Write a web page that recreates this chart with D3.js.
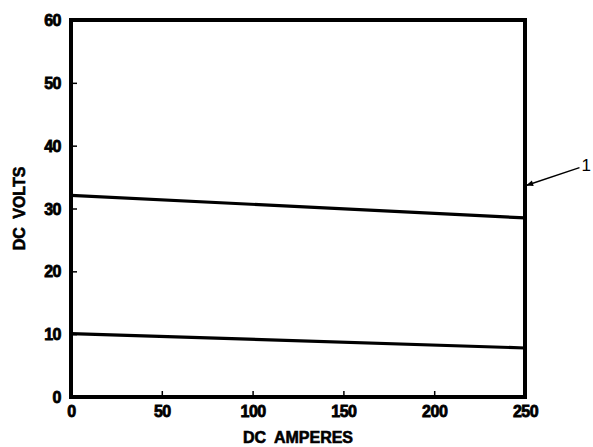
<!DOCTYPE html>
<html>
<head>
<meta charset="utf-8">
<script src="https://cdn.jsdelivr.net/npm/d3@7"></script>
<style>
  body { margin: 0; background: #fff; }
  text { font-family: "Liberation Sans", Arial, sans-serif; }
</style>
</head>
<body>
<div id="chart"></div>
<script>
const width = 593;
const height = 447;

// amperes / volts
const amperes = [0, 250];
const upperVolts = [32.1, 28.5];
const lowerVolts = [10.1, 7.8];
const xTicks = [0, 50, 100, 150, 200, 250];
const yTicks = [0, 10, 20, 30, 40, 50, 60];
const callout = { label: "1", from: [280, 36.5], to: [251, 33.7] };

const margin = { top: 20, right: 68, bottom: 50, left: 71 };

const x = d3.scaleLinear().domain([0, 250]).range([margin.left, width - margin.right]);
const y = d3.scaleLinear().domain([0, 60]).range([height - margin.bottom, margin.top]);

const svg = d3.select("#chart").append("svg")
  .attr("width", width)
  .attr("height", height);

svg.append("defs").append("marker")
  .attr("id", "arrow")
  .attr("viewBox", "0 0 10 10")
  .attr("refX", 9).attr("refY", 5)
  .attr("markerWidth", 9).attr("markerHeight", 7)
  .attr("markerUnits", "userSpaceOnUse")
  .attr("orient", "auto")
  .append("path")
  .attr("d", "M0,1 L10,5 L0,9 Z")
  .attr("fill", "#000");

// inside ticks
const xAxis = d3.axisBottom(x).tickValues(xTicks).tickSize(-6).tickPadding(9);
const yAxis = d3.axisLeft(y).tickValues(yTicks).tickSize(-6).tickPadding(10);

const gx = svg.append("g")
  .attr("transform", "translate(0," + y(0) + ")")
  .call(xAxis);
const gy = svg.append("g")
  .attr("transform", "translate(" + x(0) + ",0)")
  .call(yAxis);

[gx, gy].forEach(g => {
  g.select(".domain").remove();
  g.selectAll(".tick line").attr("stroke", "#000").attr("stroke-width", 1.5);
  g.selectAll(".tick text")
    .attr("fill", "#000")
    .attr("stroke", "#000")
    .attr("stroke-width", 0.8)
    .style("font-size", "16px")
    .style("font-weight", "bold")
    .style("letter-spacing", "-0.5px");
});
gx.selectAll(".tick").filter(d => d === 0 || d === 250).select("line").remove();
gy.selectAll(".tick").filter(d => d === 0 || d === 60).select("line").remove();
gy.selectAll(".tick text").attr("dy", "0.35em");

// frame
svg.append("rect")
  .attr("x", x(0)).attr("y", y(60))
  .attr("width", x(250) - x(0))
  .attr("height", y(0) - y(60))
  .attr("fill", "none")
  .attr("stroke", "#000")
  .attr("stroke-width", 4);

const line = d3.line().x(d => x(d[0])).y(d => y(d[1]));

[upperVolts, lowerVolts].forEach(vals => {
  svg.append("path")
    .datum(amperes.map((a, i) => [a, vals[i]]))
    .attr("d", line)
    .attr("fill", "none")
    .attr("stroke", "#000")
    .attr("stroke-width", 3.2);
});

// callout arrow
svg.append("line")
  .attr("x1", x(callout.from[0])).attr("y1", y(callout.from[1]))
  .attr("x2", x(callout.to[0])).attr("y2", y(callout.to[1]))
  .attr("stroke", "#000")
  .attr("stroke-width", 1.5)
  .attr("marker-end", "url(#arrow)");

svg.append("text")
  .attr("x", width - 2)
  .attr("y", y(callout.from[1]) + 3)
  .attr("text-anchor", "end")
  .style("font-size", "17px")
  .text(callout.label);

// axis titles
svg.append("text")
  .attr("x", (x(0) + x(250)) / 2)
  .attr("y", 443)
  .attr("text-anchor", "middle")
  .attr("stroke", "#000")
  .attr("stroke-width", 0.6)
  .style("font-size", "16px")
  .style("font-weight", "bold")
  .style("word-spacing", "4px")
  .text("DC AMPERES");

svg.append("text")
  .attr("transform", "translate(25," + ((y(0) + y(60)) / 2) + ") rotate(-90)")
  .attr("text-anchor", "middle")
  .attr("stroke", "#000")
  .attr("stroke-width", 0.6)
  .style("font-size", "16px")
  .style("font-weight", "bold")
  .style("word-spacing", "4px")
  .text("DC VOLTS");
</script>
</body>
</html>
